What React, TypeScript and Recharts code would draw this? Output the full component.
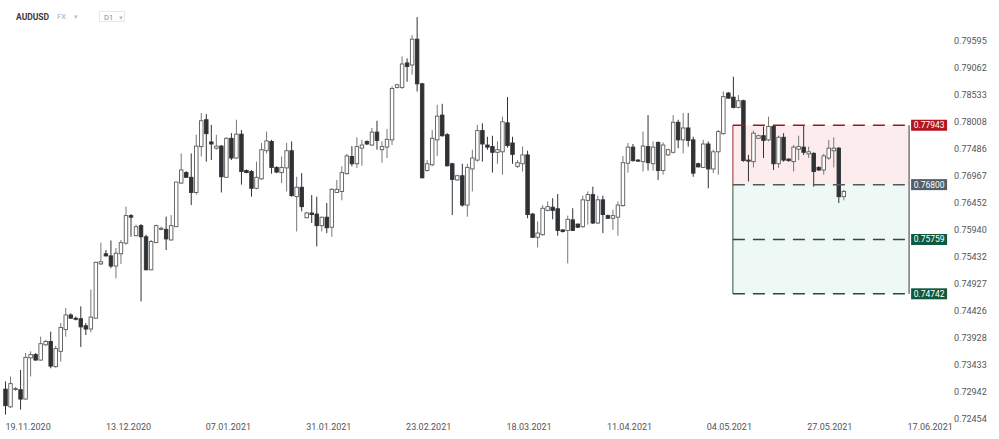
import React from "react";
import {
  ComposedChart,
  Bar,
  XAxis,
  YAxis,
  ReferenceArea,
  ReferenceLine,
  ReferenceDot,
} from "recharts";

const opens = [
  0.7299, 0.7267, 0.7299, 0.7298, 0.7281, 0.7356, 0.7362, 0.7352, 0.738, 0.7386,
  0.734, 0.7368, 0.7408, 0.7435, 0.7429, 0.7428, 0.7415, 0.7409, 0.7429, 0.753,
  0.7549, 0.7545, 0.7526, 0.7549, 0.7569, 0.7621, 0.7583, 0.7602, 0.7581, 0.7519,
  0.757, 0.7596, 0.7595, 0.7575, 0.76, 0.7683, 0.7703, 0.7694, 0.7665, 0.7753,
  0.7805, 0.7762, 0.775, 0.7754, 0.7694, 0.7769, 0.7731, 0.7777, 0.7707, 0.7705,
  0.7673, 0.7691, 0.7745, 0.7763, 0.7713, 0.7703, 0.7712, 0.7745, 0.7657, 0.7675,
  0.7617, 0.7626, 0.7624, 0.7602, 0.7618, 0.7599, 0.7665, 0.7667, 0.7701, 0.7734,
  0.772, 0.775, 0.7763, 0.7756, 0.7781, 0.7747, 0.7752, 0.7766, 0.7868, 0.7868,
  0.7916, 0.7912, 0.7963, 0.7875, 0.7707, 0.7718, 0.7766, 0.7814, 0.7776, 0.772,
  0.7689, 0.7697, 0.7641, 0.771, 0.7727, 0.7784, 0.7756, 0.7753, 0.7742, 0.7743,
  0.7799, 0.776, 0.7715, 0.772, 0.7737, 0.7624, 0.758, 0.7585, 0.7631, 0.7637,
  0.7634, 0.7594, 0.7593, 0.7613, 0.7605, 0.76, 0.765, 0.7661, 0.7607, 0.7651,
  0.7621, 0.7616, 0.7618, 0.764, 0.7721, 0.7752, 0.7727, 0.7724, 0.7753, 0.772,
  0.7761, 0.7707, 0.7737, 0.7742, 0.78, 0.7766, 0.7789, 0.7766, 0.772, 0.7713,
  0.7758, 0.771, 0.7743, 0.7778, 0.7857, 0.7849, 0.7829, 0.7842, 0.7727, 0.7724,
  0.7769, 0.7774, 0.7766, 0.7792, 0.772, 0.7771, 0.7729, 0.7724, 0.7748, 0.7752,
  0.7739, 0.774, 0.7713, 0.7708, 0.7731, 0.7745, 0.775, 0.7657,
];

const highs = [
  0.7313, 0.7322, 0.7303, 0.7334, 0.7365, 0.7368, 0.7365, 0.7395, 0.7389, 0.7404,
  0.7378, 0.742, 0.7448, 0.7438, 0.7432, 0.7451, 0.742, 0.7482, 0.7534, 0.757,
  0.7556, 0.7574, 0.756, 0.7575, 0.7638, 0.7624, 0.7604, 0.7605, 0.7585, 0.7575,
  0.7604, 0.76, 0.7619, 0.7622, 0.7685, 0.774, 0.7706, 0.774, 0.7776, 0.7818,
  0.7816, 0.7795, 0.7776, 0.7756, 0.7771, 0.7779, 0.7805, 0.7785, 0.7709, 0.7708,
  0.7724, 0.776, 0.7782, 0.7766, 0.7715, 0.7734, 0.776, 0.7763, 0.7695, 0.7702,
  0.7628, 0.766, 0.7657, 0.7619, 0.7645, 0.7673, 0.7689, 0.7715, 0.7739, 0.7754,
  0.7771, 0.7766, 0.7765, 0.7789, 0.7803, 0.7763, 0.7787, 0.787, 0.7875, 0.7929,
  0.7925, 0.7971, 0.8007, 0.7877, 0.7727, 0.7785, 0.7834, 0.7836, 0.7779, 0.7722,
  0.7699, 0.772, 0.772, 0.7747, 0.7795, 0.7798, 0.7772, 0.7774, 0.7763, 0.7811,
  0.7849, 0.7772, 0.7727, 0.7753, 0.7745, 0.7626, 0.761, 0.7641, 0.7648, 0.7654,
  0.7662, 0.7595, 0.7621, 0.7635, 0.7606, 0.7659, 0.7667, 0.7676, 0.7659, 0.7659,
  0.7623, 0.7632, 0.7648, 0.7735, 0.776, 0.7758, 0.7729, 0.7782, 0.7814, 0.7763,
  0.7763, 0.7761, 0.7749, 0.7814, 0.7805, 0.7818, 0.7818, 0.7772, 0.7722, 0.7766,
  0.7763, 0.7747, 0.7785, 0.786, 0.7859, 0.7889, 0.7853, 0.7844, 0.7737, 0.7784,
  0.7776, 0.7792, 0.7811, 0.7793, 0.7774, 0.7779, 0.773, 0.7756, 0.7774, 0.7793,
  0.7753, 0.7742, 0.7715, 0.7739, 0.7766, 0.7771, 0.7752, 0.767,
];

const lows = [
  0.7253, 0.7265, 0.7296, 0.7262, 0.728, 0.7322, 0.7351, 0.7351, 0.7378, 0.7337,
  0.7338, 0.7349, 0.7395, 0.7428, 0.7425, 0.7376, 0.7398, 0.7403, 0.7428, 0.7528,
  0.7544, 0.7522, 0.7503, 0.753, 0.7566, 0.7581, 0.7582, 0.746, 0.7518, 0.7518,
  0.7569, 0.7593, 0.7556, 0.7574, 0.76, 0.7681, 0.7693, 0.7641, 0.7661, 0.7734,
  0.7724, 0.7727, 0.7747, 0.7665, 0.7693, 0.7727, 0.7729, 0.768, 0.7702, 0.7657,
  0.7671, 0.7689, 0.774, 0.7701, 0.7702, 0.7683, 0.7667, 0.7657, 0.7591, 0.7629,
  0.7616, 0.7607, 0.7563, 0.7591, 0.7588, 0.7581, 0.7664, 0.765, 0.7699, 0.7715,
  0.7712, 0.7716, 0.7756, 0.7754, 0.7747, 0.7722, 0.7731, 0.7756, 0.7866, 0.7865,
  0.7879, 0.7893, 0.786, 0.7692, 0.7705, 0.7715, 0.7735, 0.7772, 0.7715, 0.7622,
  0.7687, 0.7638, 0.7619, 0.7667, 0.7724, 0.7724, 0.7747, 0.7703, 0.772, 0.7699,
  0.7751, 0.772, 0.7712, 0.7705, 0.7616, 0.7579, 0.7561, 0.7583, 0.7629, 0.7614,
  0.7583, 0.7589, 0.7531, 0.7592, 0.7598, 0.7598, 0.7604, 0.7605, 0.7605, 0.7588,
  0.7615, 0.7594, 0.7583, 0.7638, 0.7703, 0.7724, 0.7724, 0.7705, 0.7707, 0.7707,
  0.7689, 0.7699, 0.7735, 0.774, 0.775, 0.774, 0.7753, 0.7695, 0.7713, 0.7712,
  0.7673, 0.7702, 0.7699, 0.7776, 0.7846, 0.7827, 0.7827, 0.7724, 0.7686, 0.7713,
  0.7768, 0.7731, 0.7763, 0.7708, 0.7712, 0.7724, 0.7724, 0.7705, 0.7727, 0.7737,
  0.7731, 0.7676, 0.7706, 0.7699, 0.7727, 0.7713, 0.7645, 0.765,
];

const closes = [
  0.7269, 0.7309, 0.73, 0.7281, 0.7357, 0.7362, 0.7352, 0.7382, 0.7386, 0.7341,
  0.7373, 0.7412, 0.7435, 0.7429, 0.7427, 0.7413, 0.7409, 0.7431, 0.7533, 0.7534,
  0.7545, 0.7526, 0.755, 0.757, 0.7621, 0.7618, 0.76, 0.7581, 0.7519, 0.7572,
  0.7602, 0.7597, 0.7577, 0.7602, 0.7685, 0.7708, 0.7694, 0.7665, 0.7754, 0.7803,
  0.7778, 0.7758, 0.7754, 0.7695, 0.7769, 0.7731, 0.7777, 0.7705, 0.7703, 0.7673,
  0.7694, 0.7747, 0.7764, 0.7713, 0.7704, 0.7713, 0.7745, 0.7659, 0.7675, 0.7638,
  0.7626, 0.7623, 0.7602, 0.7618, 0.7598, 0.7671, 0.7671, 0.7703, 0.7735, 0.772,
  0.7753, 0.7756, 0.7758, 0.7781, 0.7765, 0.7753, 0.7767, 0.7866, 0.7873, 0.7914,
  0.7909, 0.7963, 0.7875, 0.7693, 0.772, 0.7769, 0.7812, 0.7774, 0.7716, 0.769,
  0.7697, 0.7641, 0.7713, 0.7731, 0.7784, 0.7758, 0.7752, 0.7742, 0.7747, 0.7801,
  0.7755, 0.7738, 0.7722, 0.7737, 0.7623, 0.758, 0.7588, 0.7635, 0.7638, 0.7631,
  0.7593, 0.7591, 0.7614, 0.7593, 0.7599, 0.7651, 0.7661, 0.7607, 0.7651, 0.7623,
  0.7616, 0.7621, 0.7641, 0.7722, 0.7752, 0.7726, 0.7725, 0.7754, 0.7722, 0.7752,
  0.7707, 0.7756, 0.7747, 0.78, 0.7766, 0.7789, 0.7765, 0.7702, 0.7714, 0.7758,
  0.771, 0.7743, 0.7782, 0.785, 0.7847, 0.7829, 0.7842, 0.7726, 0.7725, 0.7779,
  0.7774, 0.7765, 0.7792, 0.772, 0.7771, 0.7727, 0.7726, 0.7752, 0.7753, 0.7742,
  0.7743, 0.7705, 0.7708, 0.7735, 0.775, 0.775, 0.7657, 0.7667,
];

// x positions of the date labels (candle index units)
const dateTicks = [4.6, 24.6, 44.5, 64.5, 84.4, 104.4, 124.4, 144.3, 164.3, 184.3];
const dateLabels = [
  "19.11.2020",
  "13.12.2020",
  "07.01.2021",
  "31.01.2021",
  "23.02.2021",
  "18.03.2021",
  "11.04.2021",
  "04.05.2021",
  "27.05.2021",
  "17.06.2021",
];

const priceTicks = [
  0.79595, 0.79062, 0.78533, 0.78008, 0.77486, 0.76967, 0.76452, 0.7594, 0.75432,
  0.74927, 0.74426, 0.73928, 0.73433, 0.72942, 0.72454,
];

// trade setup levels
const stopLoss = 0.77943;
const entry = 0.768;
const target1 = 0.75759;
const target2 = 0.74742;
const boxStart = 145.0;
const boxEnd = 180.1;

const data = opens.map((o, i) => ({
  i,
  o,
  h: Math.max(highs[i], o, closes[i]),
  l: Math.min(lows[i], o, closes[i]),
  c: closes[i],
}));

function Candle(props: any) {
  const { x, y, width, height, payload } = props;
  if (!payload) return null;
  const { o, h, l, c } = payload;
  const top = Math.min(y, y + height);
  const span = Math.abs(height);
  const lnH = Math.log(h);
  const lnL = Math.log(l);
  const py = (v: number) =>
    lnH === lnL ? top : top + ((lnH - Math.log(v)) / (lnH - lnL)) * span;
  const cx = x + width / 2;
  const up = c >= o;
  const bodyTop = py(Math.max(o, c));
  const bodyH = Math.max(1, py(Math.min(o, c)) - bodyTop);
  const col = up ? "#5a5a5a" : "#2f3235";
  return (
    <g>
      <line x1={cx} x2={cx} y1={top} y2={top + span} stroke={up ? "#777" : "#2f3235"} strokeWidth={1} />
      <rect
        x={cx - 1.75}
        y={bodyTop}
        width={3.5}
        height={bodyH}
        fill={up ? "#ffffff" : "#2f3235"}
        stroke={col}
        strokeWidth={0.9}
      />
    </g>
  );
}

function levelTag(text: string, color: string) {
  return (props: any) => {
    const { cx, cy } = props;
    return (
      <g>
        <rect x={cx + 2} y={cy - 5.5} width={36} height={11} fill={color} />
        <text
          x={cx + 20}
          y={cy}
          dy="0.35em"
          textAnchor="middle"
          fill="#ffffff"
          fontSize={8.5}
          fontFamily="Roboto"
        >
          {text}
        </text>
      </g>
    );
  };
}

export default function App() {
  return (
    <div
      style={{
        position: "absolute",
        left: 0,
        top: 0,
        width: 999,
        height: 439,
        background: "#ffffff",
        fontFamily: "Roboto",
      }}
    >
      <ComposedChart
        width={999}
        height={439}
        data={data}
        margin={{ top: 10, right: 0, bottom: 0, left: 0 }}
        style={{ fontFamily: "Roboto" }}
      >
        <XAxis
          dataKey="i"
          type="number"
          domain={[-1, 188.25]}
          allowDataOverflow
          ticks={dateTicks}
          interval={0}
          tickFormatter={(v) => dateLabels[dateTicks.indexOf(v)] ?? ""}
          axisLine={false}
          tickLine={false}
          tickSize={0}
          tickMargin={5}
          height={20}
          tick={{ fill: "#555", fontSize: 9 }}
        />
        <YAxis
          orientation="right"
          scale="log"
          domain={[0.7245, 0.8021]}
          allowDataOverflow
          ticks={priceTicks}
          interval={0}
          tickFormatter={(v) => Number(v).toFixed(5)}
          axisLine={false}
          tickLine={false}
          tickSize={0}
          tickMargin={4}
          width={49}
          tick={{ fill: "#555", fontSize: 9 }}
        />
        <ReferenceArea x1={boxStart} x2={boxEnd} y1={entry} y2={stopLoss} fill="#fdeced" fillOpacity={1} />
        <ReferenceArea x1={boxStart} x2={boxEnd} y1={target2} y2={entry} fill="#eef8f4" fillOpacity={1} />
        <Bar dataKey={(d: any) => [d.l, d.h]} barSize={4} shape={<Candle />} isAnimationActive={false} />
        <ReferenceLine
          segment={[{ x: boxStart, y: stopLoss }, { x: boxEnd, y: stopLoss }]}
          stroke="#a3161c"
          strokeWidth={1.5}
          strokeDasharray="12 8"
        />
        <ReferenceLine
          segment={[{ x: boxStart, y: entry }, { x: boxEnd, y: entry }]}
          stroke="#505a5c"
          strokeWidth={1.5}
          strokeDasharray="12 8"
        />
        <ReferenceLine
          segment={[{ x: boxStart, y: target1 }, { x: boxEnd, y: target1 }]}
          stroke="#21503f"
          strokeWidth={1.5}
          strokeDasharray="12 8"
        />
        <ReferenceLine
          segment={[{ x: boxStart, y: target2 }, { x: boxEnd, y: target2 }]}
          stroke="#21503f"
          strokeWidth={1.5}
          strokeDasharray="12 8"
        />
        <ReferenceLine
          segment={[{ x: boxStart, y: stopLoss }, { x: boxStart, y: entry }]}
          stroke="#9a2a2e"
          strokeWidth={1}
        />
        <ReferenceLine
          segment={[{ x: boxStart, y: entry }, { x: boxStart, y: target2 }]}
          stroke="#2f4f44"
          strokeWidth={1}
        />
        <ReferenceLine
          segment={[{ x: boxEnd, y: stopLoss }, { x: boxEnd, y: target2 }]}
          stroke="#333a38"
          strokeWidth={1}
        />
        <ReferenceDot x={boxEnd} y={stopLoss} r={0} shape={levelTag("0.77943", "#b3161c")} />
        <ReferenceDot x={boxEnd} y={entry} r={0} shape={levelTag("0.76800", "#545e68")} />
        <ReferenceDot x={boxEnd} y={target1} r={0} shape={levelTag("0.75759", "#0f5a3f")} />
        <ReferenceDot x={boxEnd} y={target2} r={0} shape={levelTag("0.74742", "#0f5a3f")} />
      </ComposedChart>
      <div
        style={{
          position: "absolute",
          left: 16,
          top: 11,
          fontSize: 8.5,
          fontWeight: 700,
          color: "#3a3a3a",
          lineHeight: "12px",
        }}
      >
        AUDUSD
      </div>
      <div style={{ position: "absolute", left: 57, top: 11, fontSize: 7.5, color: "#aaa", lineHeight: "12px" }}>
        FX <span style={{ marginLeft: 5, fontSize: 6, color: "#bbb" }}>▼</span>
      </div>
      <div
        style={{
          position: "absolute",
          left: 99,
          top: 11,
          width: 26,
          height: 11,
          border: "1px solid #e8e8e8",
          fontSize: 7.5,
          color: "#888",
          lineHeight: "11px",
          boxSizing: "border-box",
          paddingLeft: 4,
        }}
      >
        D1 <span style={{ marginLeft: 3, fontSize: 6, color: "#bbb" }}>▼</span>
      </div>
    </div>
  );
}
